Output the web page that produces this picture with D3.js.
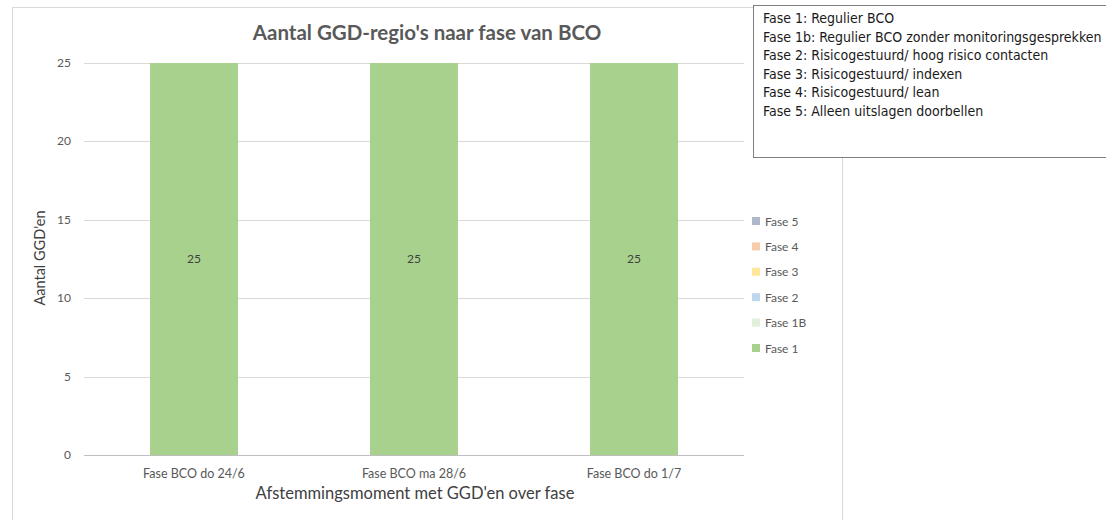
<!DOCTYPE html>
<html lang="en">
<head>
<meta charset="UTF-8">
<script src="https://d3js.org/d3.v7.min.js"></script>
<style>
  body { margin: 0; background: #fff; }
  svg text { font-family: Lato, "Open Sans", sans-serif; }
  svg text.note { font-family: "DejaVu Sans Condensed", "DejaVu Sans", sans-serif; font-stretch: condensed; }
</style>
</head>
<body>
<script>
// data
var moments = ["Fase BCO do 24/6", "Fase BCO ma 28/6", "Fase BCO do 1/7"];
var phases = ["Fase 1", "Fase 1B", "Fase 2", "Fase 3", "Fase 4", "Fase 5"];
var fase1 = [25, 25, 25];
var fase1B = [0, 0, 0];
var fase2 = [0, 0, 0];
var fase3 = [0, 0, 0];
var fase4 = [0, 0, 0];
var fase5 = [0, 0, 0];
var yTicks = [0, 5, 10, 15, 20, 25];
var noteLines = [
  "Fase 1: Regulier BCO",
  "Fase 1b: Regulier BCO zonder monitoringsgesprekken",
  "Fase 2: Risicogestuurd/ hoog risico contacten",
  "Fase 3: Risicogestuurd/ indexen",
  "Fase 4: Risicogestuurd/ lean",
  "Fase 5: Alleen uitslagen doorbellen"
];

var colors = ["#a9d18e", "#e2efda", "#bdd7ee", "#ffe699", "#f8cbad", "#adb9ca"];

var rows = moments.map(function(m, i) {
  return {moment: m, "Fase 1": fase1[i], "Fase 1B": fase1B[i], "Fase 2": fase2[i],
          "Fase 3": fase3[i], "Fase 4": fase4[i], "Fase 5": fase5[i]};
});

var W = 1106, H = 520;
var svg = d3.select("body").append("svg").attr("width", W).attr("height", H);

// chart frame
svg.append("rect").attr("x", 12.5).attr("y", 7.5).attr("width", 830).attr("height", 520)
  .attr("fill", "#fff").attr("stroke", "#d9d9d9");

var x = d3.scaleBand().domain(moments).range([84, 744]).paddingInner(0.6).paddingOuter(0.3);
var y = d3.scaleLinear().domain([0, 25]).range([455, 63]);

// gridlines
svg.append("g").selectAll("line").data(yTicks).enter().append("line")
  .attr("x1", 84).attr("x2", 744)
  .attr("y1", d => Math.round(y(d)) + 0.5).attr("y2", d => Math.round(y(d)) + 0.5)
  .attr("stroke", d => d === 0 ? "#bfbfbf" : "#d9d9d9");

svg.append("g").selectAll("text").data(yTicks).enter().append("text")
  .attr("x", 71).attr("y", d => y(d) + 4)
  .attr("text-anchor", "end").attr("font-size", 12).attr("fill", "#595959")
  .text(d => d);

// stacked bars
var stack = d3.stack().keys(phases)(rows);
svg.append("g").selectAll("g").data(stack).enter().append("g")
  .attr("fill", (d, i) => colors[i])
  .selectAll("rect").data(d => d).enter().append("rect")
  .attr("x", d => x(d.data.moment))
  .attr("width", x.bandwidth())
  .attr("y", d => y(d[1]))
  .attr("height", d => y(d[0]) - y(d[1]));

// data labels
svg.append("g").selectAll("text").data(stack[0]).enter().append("text")
  .attr("x", d => x(d.data.moment) + x.bandwidth() / 2)
  .attr("y", d => y((d[0] + d[1]) / 2) + 4)
  .attr("text-anchor", "middle").attr("font-size", 12).attr("fill", "#404040")
  .text(d => d[1] - d[0]);

// x tick labels
svg.append("g").selectAll("text").data(moments).enter().append("text")
  .attr("x", d => x(d) + x.bandwidth() / 2).attr("y", 478)
  .attr("text-anchor", "middle").attr("font-size", 12.5).attr("fill", "#595959")
  .text(d => d);

// titles
svg.append("text").attr("x", 427).attr("y", 40).attr("text-anchor", "middle")
  .attr("font-size", 20.5).attr("font-weight", "bold").attr("fill", "#595959")
  .text("Aantal GGD-regio's naar fase van BCO");

svg.append("text").attr("x", 415).attr("y", 499).attr("text-anchor", "middle")
  .attr("font-size", 16.5).attr("fill", "#404040")
  .text("Afstemmingsmoment met GGD'en over fase");

svg.append("text").attr("transform", "translate(45,258) rotate(-90)")
  .attr("text-anchor", "middle").attr("font-size", 14.5).attr("fill", "#404040")
  .text("Aantal GGD'en");

// legend (reverse order like Excel)
var leg = svg.append("g").selectAll("g").data(phases.slice().reverse()).enter().append("g")
  .attr("transform", (d, i) => "translate(752," + (221 + i * 25.4) + ")");
leg.append("rect").attr("x", 0).attr("y", -4).attr("width", 8).attr("height", 8)
  .attr("fill", d => colors[phases.indexOf(d)]);
leg.append("text").attr("x", 13).attr("y", 4.5).attr("font-size", 12).attr("fill", "#595959")
  .text(d => d);

// text box
svg.append("rect").attr("x", 753.5).attr("y", 5.5).attr("width", 360).attr("height", 152)
  .attr("fill", "#fff").attr("stroke", "#7f7f7f");
svg.append("g").selectAll("text").data(noteLines).enter().append("text")
  .attr("class", "note")
  .attr("x", 763).attr("y", (d, i) => 23 + i * 18.5)
  .attr("font-size", 14).attr("fill", "#1a1a1a")
  .text(d => d);
</script>
</body>
</html>
